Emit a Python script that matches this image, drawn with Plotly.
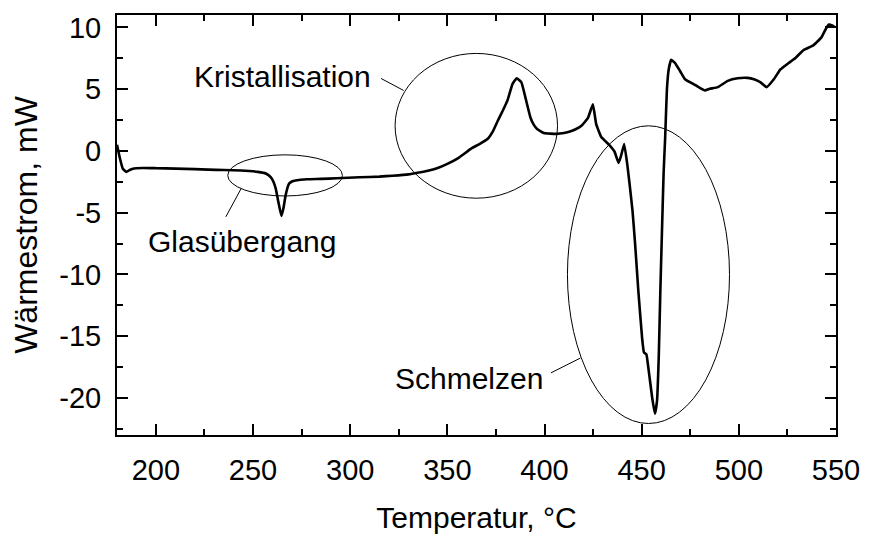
import plotly.graph_objects as go

# DSC heating curve: temperature (°C) vs. heat flow (mW)
temperatur = [
    180.0, 181.5, 183.0, 184.8, 186.5, 188.1, 193.2, 200.0, 210.1, 220.0,
    227.0, 235.0, 243.9, 248.0, 252.4, 256.6, 259.2, 260.5, 261.7, 263.0,
    264.6, 265.7, 266.8, 268.5, 270.0, 271.9, 277.8, 285.0, 293.0, 304.8,
    315.0, 321.8, 330.0, 335.3, 340.0, 345.4, 350.0, 355.6, 362.4, 366.5,
    370.8, 373.5, 375.9, 378.5, 381.0, 383.5, 385.7, 388.1, 390.3, 392.8,
    394.5, 396.2, 399.6, 403.0, 406.3, 410.0, 413.1, 416.0, 419.0, 422.4,
    424.9, 426.6, 429.2, 433.4, 436.0, 438.1, 439.3, 441.0, 442.7, 444.0,
    445.3, 446.6, 448.3, 450.3, 451.2, 452.4, 453.7, 455.4, 456.8, 457.9,
    458.8, 459.6, 460.5, 461.3, 462.1, 463.0, 463.9, 465.2, 467.2, 469.8,
    472.3, 477.4, 482.4, 485.0, 489.2, 494.3, 499.4, 504.5, 507.8, 511.2,
    514.3, 518.0, 521.4, 525.6, 529.0, 533.2, 538.3, 542.5, 545.1, 546.4,
    548.0, 549.3,
]
waermestrom = [
    0.50, -0.60, -1.45, -1.70, -1.55, -1.44, -1.38, -1.40, -1.44, -1.48,
    -1.52, -1.55, -1.59, -1.63, -1.70, -1.83, -2.14, -2.50, -3.05, -4.10,
    -5.27, -4.60, -3.57, -2.66, -2.48, -2.40, -2.30, -2.27, -2.22, -2.14,
    -2.08, -2.01, -1.90, -1.75, -1.60, -1.36, -1.05, -0.58, 0.20, 0.55,
    0.98, 1.60, 2.42, 3.25, 4.11, 5.41, 5.88, 5.55, 4.24, 2.68,
    2.10, 1.77, 1.45, 1.40, 1.38, 1.45, 1.56, 1.75, 2.03, 2.68,
    3.77, 2.16, 1.12, 0.47, -0.05, -0.97, -0.45, 0.55, -1.23, -3.00,
    -4.88, -7.48, -11.38, -15.29, -16.33, -16.46, -17.89, -19.98, -21.28, -20.23,
    -16.59, -11.38, -6.17, -1.75, 1.12, 5.02, 6.59, 7.37, 7.11, 6.45,
    5.80, 5.34, 4.89, 5.02, 5.16, 5.67, 5.88, 5.91, 5.80, 5.55,
    5.16, 5.80, 6.59, 7.11, 7.50, 8.15, 8.54, 9.19, 9.97, 10.23,
    10.15, 10.02,
]

x_ticks = [200, 250, 300, 350, 400, 450, 500, 550]
y_ticks = [10, 5, 0, -5, -10, -15, -20]

# labelled regions: ellipse extents, leader line ends, text position and anchor
region_labels = ["Glasübergang", "Kristallisation", "Schmelzen"]
ellipse_x = [(237.0, 296.0), (323.1, 406.7), (411.8, 495.2)]
ellipse_y = [(-3.65, -0.32), (-3.83, 7.89), (-22.07, 2.03)]
leader_start = [(236.0, -5.34), (315.9, 5.86), (403.3, -17.97)]
leader_end = [(243.9, -3.05), (327.5, 4.89), (418.5, -16.77)]
label_pos = [(244.4, -7.3), (311.5, 6.0), (322.1, -18.45)]
label_anchor = ["center", "right", "left"]

FONT = "Arial, 'Liberation Sans', sans-serif"

fig = go.Figure()
fig.add_trace(go.Scatter(
    x=temperatur, y=waermestrom, mode="lines",
    line=dict(color="black", width=2.6, shape="spline", smoothing=0.35),
    showlegend=False, hoverinfo="skip",
))

for (x0, x1), (y0, y1) in zip(ellipse_x, ellipse_y):
    fig.add_shape(type="circle", xref="x", yref="y", x0=x0, x1=x1, y0=y0, y1=y1,
                  line=dict(color="black", width=1))
for (xa, ya), (xb, yb) in zip(leader_start, leader_end):
    fig.add_shape(type="line", xref="x", yref="y", x0=xa, y0=ya, x1=xb, y1=yb,
                  line=dict(color="black", width=1))
for text, (tx, ty), anchor in zip(region_labels, label_pos, label_anchor):
    fig.add_annotation(x=tx, y=ty, text=text, showarrow=False, xanchor=anchor,
                       yanchor="middle", font=dict(family=FONT, size=30, color="black"))

axis_common = dict(
    showline=True, linecolor="black", linewidth=2, mirror="ticks",
    ticks="inside", ticklen=11, tickwidth=1.5, tickcolor="black",
    showgrid=False, zeroline=False,
    tickfont=dict(family=FONT, size=29, color="black"),
)

fig.update_xaxes(
    range=[180, 550], tickvals=x_ticks, ticktext=[str(v) for v in x_ticks],
    minor=dict(ticks="inside", ticklen=6, dtick=25, tick0=0, tickwidth=1.5, tickcolor="black"),
    title=dict(text="Temperatur, °C", font=dict(family=FONT, size=30, color="black"), standoff=22),
    ticklabelstandoff=8,
    **axis_common,
)
fig.update_yaxes(
    range=[-23, 11], tickvals=y_ticks, ticktext=[str(v) for v in y_ticks],
    minor=dict(ticks="inside", ticklen=6, dtick=2.5, tick0=0, tickwidth=1.5, tickcolor="black"),
    title=dict(text="Wärmestrom, mW", font=dict(family=FONT, size=32, color="black"), standoff=12),
    ticklabelstandoff=8,
    **axis_common,
)

fig.update_layout(
    width=872, height=541,
    margin=dict(l=117, r=26, t=14, b=93),
    plot_bgcolor="white", paper_bgcolor="white",
    font=dict(family=FONT, color="black"),
)

fig.write_html("out.html")
